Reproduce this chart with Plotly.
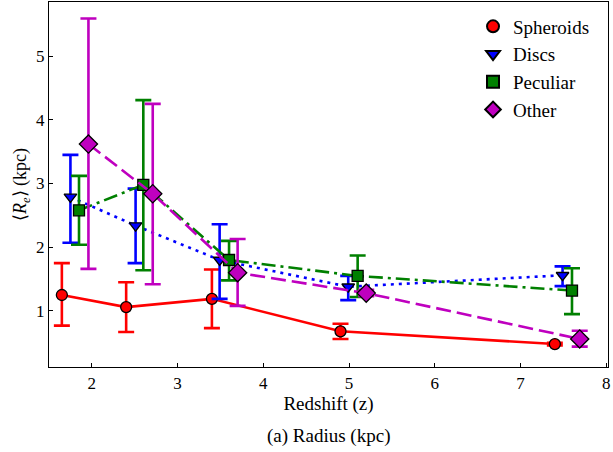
import plotly.graph_objects as go

# Data
sph_x = [1.65, 2.40, 3.40, 4.90, 7.40]
sph_y = [1.25, 1.06, 1.19, 0.68, 0.48]
sph_hi = [1.75, 1.45, 1.65, 0.80, 0.50]
sph_lo = [0.77, 0.67, 0.73, 0.56, 0.46]

disc_x = [1.75, 2.51, 3.49, 4.99, 7.49]
disc_y = [2.79, 2.34, 1.80, 1.38, 1.56]
disc_hi = [3.45, 2.92, 2.36, 1.55, 1.70]
disc_lo = [2.07, 1.75, 1.19, 1.17, 1.39]

pec_x = [1.85, 2.60, 3.60, 5.10, 7.60]
pec_y = [2.58, 2.98, 1.80, 1.55, 1.32]
pec_hi = [3.12, 4.31, 2.10, 1.87, 1.67]
pec_lo = [2.04, 1.64, 1.48, 1.22, 0.95]

oth_x = [1.96, 2.71, 3.70, 5.20, 7.69]
oth_y = [3.62, 2.84, 1.60, 1.28, 0.56]
oth_hi = [5.59, 4.25, 2.13, 1.33, 0.69]
oth_lo = [1.66, 1.42, 1.08, 1.23, 0.44]

series = [
    ("Spheroids", sph_x, sph_y, sph_hi, sph_lo, "#ff0000", "circle", "solid", 11),
    ("Discs", disc_x, disc_y, disc_hi, disc_lo, "#0000ff", "triangle-down", "3px,5px", 11),
    ("Peculiar", pec_x, pec_y, pec_hi, pec_lo, "#008000", "square", "14px,5px,3px,5px", 11),
    ("Other", oth_x, oth_y, oth_hi, oth_lo, "#bf00bf", "diamond", "15px,6px", 14),
]

FONT = "Liberation Serif, Times New Roman, serif"

fig = go.Figure()
for name, x, y, hi, lo, col, sym, dash, msize in series:
    fig.add_trace(go.Scatter(
        x=x, y=y, mode="lines+markers", name=name, showlegend=False,
        legendgroup=name,
        line=dict(color=col, width=2.6, dash=dash),
        marker=dict(symbol=sym, size=msize, color=col,
                    line=dict(color="black", width=1.3)),
        error_y=dict(type="data", symmetric=False,
                     array=[h - v for h, v in zip(hi, y)],
                     arrayminus=[v - l for l, v in zip(lo, y)],
                     color=col, thickness=2.6, width=8),
    ))
for name, x, y, hi, lo, col, sym, dash, msize in series:
    fig.add_trace(go.Scatter(
        x=[None], y=[None], mode="markers", name=name, legendgroup=name,
        marker=dict(symbol=sym, size=msize, color=col,
                    line=dict(color="black", width=1.3)),
    ))

axis_common = dict(
    showline=True, linecolor="black", linewidth=1.2, mirror=True,
    ticks="inside", ticklen=4, tickwidth=1, tickcolor="black",
    showgrid=False, zeroline=False,
    tickfont=dict(family=FONT, size=17, color="black"),
)

fig.update_layout(
    width=613, height=452,
    margin=dict(l=49, r=5, t=2, b=85),
    plot_bgcolor="white", paper_bgcolor="white",
    font=dict(family=FONT, size=17, color="black"),
    xaxis=dict(range=[1.5, 8.02], tickvals=[2, 3, 4, 5, 6, 7, 8],
               title=dict(text="Redshift (z)", standoff=5,
                          font=dict(family=FONT, size=19)),
               **axis_common),
    yaxis=dict(range=[0.12, 5.85], tickvals=[1, 2, 3, 4, 5],
               title=dict(text="⟨<i>R</i><sub><i>e</i></sub>⟩ (kpc)", standoff=4,
                          font=dict(family=FONT, size=18)),
               **axis_common),
    legend=dict(x=0.975, y=0.985, xanchor="right", yanchor="top",
                bgcolor="rgba(255,255,255,0)",
                font=dict(family=FONT, size=19),
                itemsizing="constant", tracegroupgap=0),
    annotations=[dict(text="(a) Radius (kpc)", xref="paper", yref="paper",
                      x=0.5, y=-0.19, xanchor="center", yanchor="middle",
                      showarrow=False,
                      font=dict(family=FONT, size=19, color="black"))],
)

fig.write_html("out.html")
